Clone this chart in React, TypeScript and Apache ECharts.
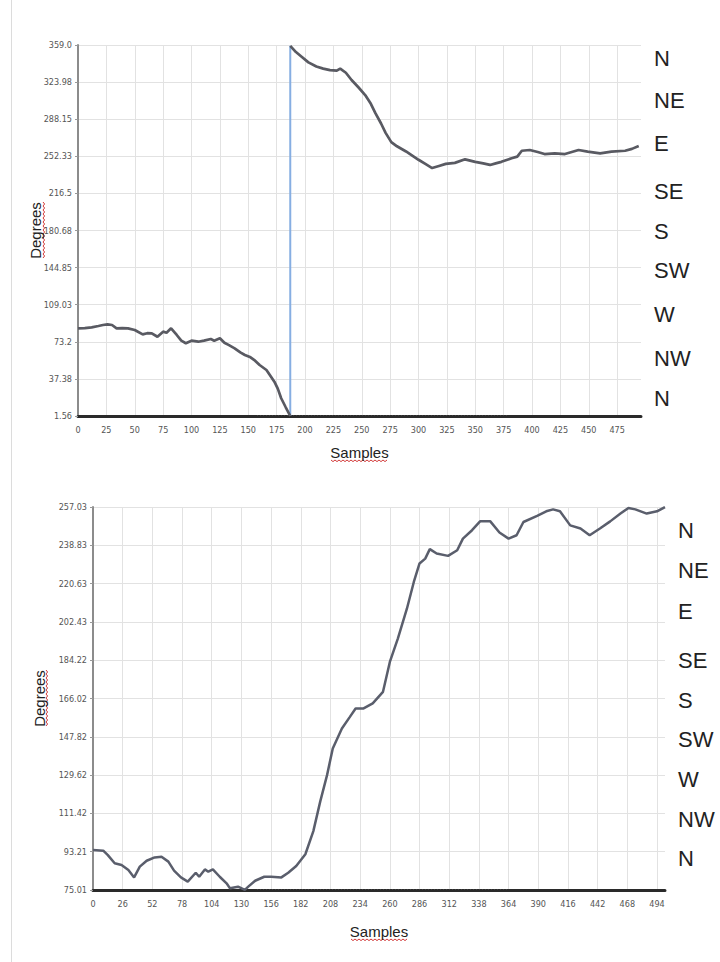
import React, { useEffect, useRef } from "react";
import * as echarts from "echarts";

// ---------- Top chart data ----------
const topSamplesBefore = [0, 6, 12, 18, 22, 26, 30, 34, 39, 44, 50, 57, 61, 65, 70, 75, 78, 82, 87, 91, 95, 100, 106, 111, 117, 120, 125, 129, 133, 138, 143, 147, 152, 156, 160, 166, 169, 173, 176, 179, 183, 187];
const topDegreesBefore = [86.2, 86.5, 87.2, 88.5, 89.4, 90, 89.4, 86.2, 86.5, 86.2, 84.6, 80.4, 81.5, 81.4, 78.1, 83, 82, 86.2, 79.8, 74.3, 71.8, 74.3, 73.3, 74.3, 75.9, 74.3, 76.6, 72.3, 70, 66.9, 63, 60.5, 58.2, 55, 50.8, 46, 41.2, 34.7, 28, 18.7, 10, 1.56];
const topSamplesAfter = [187, 192, 197, 203, 210, 216, 222, 228, 231, 236, 241, 247, 253, 258, 262, 267, 271, 276, 281, 289, 300, 306, 312, 318, 324, 332, 341, 350, 357, 363, 368, 373, 382, 387, 391, 398, 405, 411, 420, 429, 435, 441, 449, 460, 470, 482, 488, 494];
const topDegreesAfter = [359, 353, 348.5, 343, 339, 337, 335.5, 335, 337, 333, 326, 319, 311.5, 303, 294, 284, 275, 266, 262, 257, 249, 245, 241, 243, 245, 246, 249.4, 247, 245.5, 244, 245.5, 247, 250.4, 252, 257.7, 258.4, 256.5, 254.5, 255.2, 254.5, 256.5, 258.4, 256.8, 255.2, 256.8, 257.7, 259.5, 262.3];
const topWrapSample = [187, 187];
const topWrapDegrees = [1.56, 359];
const topXTicks = [0, 25, 50, 75, 100, 125, 150, 175, 200, 225, 250, 275, 300, 325, 350, 375, 400, 425, 450, 475];
const topYLabels = ["1.56", "37.38", "73.2", "109.03", "144.85", "180.68", "216.5", "252.33", "288.15", "323.98", "359.0"];
const topYMin = 1.56;
const topYStep = 35.825;
const topXMax = 496;

// ---------- Bottom chart data ----------
const bottomSamples = [0, 9, 13, 19, 25, 31, 36, 41, 47, 54, 60, 66, 71, 77, 83, 90, 93, 98, 101, 105, 111, 117, 120, 127, 133, 136, 142, 150, 156, 165, 171, 178, 186, 193, 199, 205, 210, 218, 225, 230, 237, 245, 254, 260, 267, 275, 281, 286, 291, 295, 301, 311, 319, 324, 332, 339, 348, 356, 364, 371, 377, 389, 397, 403, 409, 418, 427, 435, 444, 453, 462, 469, 475, 485, 494, 501];
const bottomDegrees = [94, 93.7, 91.6, 87.7, 86.9, 84.5, 81, 86.1, 88.9, 90.5, 90.8, 88.5, 84.2, 81, 79, 83.2, 81.3, 84.8, 83.7, 84.8, 81.3, 78.2, 75.8, 76.6, 75.1, 76.6, 79.4, 81.3, 81.3, 81, 83.2, 86.4, 92, 103, 117, 129.6, 142.3, 151.8, 157.3, 161.3, 161.3, 163.7, 169.2, 183.4, 194.5, 208.8, 221.4, 230.2, 232.5, 237, 234.9, 233.8, 236.5, 242, 246, 250.2, 250.2, 244.9, 242, 243.6, 249.9, 252.8, 255, 255.9, 255, 248.3, 246.8, 243.6, 246.8, 250.2, 253.9, 256.6, 255.9, 253.9, 255, 257];
const bottomXTicks = [0, 26, 52, 78, 104, 130, 156, 182, 208, 234, 260, 286, 312, 338, 364, 390, 416, 442, 468, 494];
const bottomYLabels = ["75.01", "93.21", "111.42", "129.62", "147.82", "166.02", "184.22", "202.43", "220.63", "238.83", "257.03"];
const bottomYMin = 75.01;
const bottomYStep = 18.202;
const bottomXMax = 501;

const compassLabels = ["N", "NE", "E", "SE", "S", "SW", "W", "NW", "N"];

// layout constants for the right-hand compass text
const topCompassY = [58, 100, 143, 191, 231, 270, 314, 358, 398];
const bottomCompassY = [530, 570, 611, 660, 700, 739, 779, 819, 858];

const pairs = (xs: number[], ys: number[]) => xs.map((x, i) => [x, ys[i]]);

const tickValues = (min: number, step: number, n: number) => {
  const out: number[] = [];
  for (let i = 0; i < n; i++) out.push(+(min + i * step).toFixed(4));
  return out;
};

const zigzag = (x0: number, y0: number, len: number, vertical: boolean) => {
  const pts: number[][] = [];
  const step = 2;
  for (let i = 0; i * step <= len; i++) {
    const off = i % 2 === 0 ? 0 : 1.6;
    if (vertical) pts.push([x0 + off, y0 + i * step]);
    else pts.push([x0 + i * step, y0 + off]);
  }
  return pts;
};

const LABEL_FONT = "'Liberation Sans Narrow', 'DejaVu Sans Condensed', 'Liberation Sans', sans-serif";
const MAIN_FONT = "'Liberation Sans', Arial, sans-serif";

export default function App() {
  const ref = useRef<HTMLDivElement>(null);

  useEffect(() => {
    if (!ref.current) return;
    const chart = echarts.init(ref.current, undefined, { renderer: "svg" });

    const topYTicks = tickValues(topYMin, topYStep, topYLabels.length);
    const bottomYTicks = tickValues(bottomYMin, bottomYStep, bottomYLabels.length);

    const xAxisCommon = (ticks: number[], max: number, gridIndex: number, gap: number) => ({
      gridIndex,
      type: "value",
      min: 0,
      max,
      name: "Samples",
      nameLocation: "middle",
      nameGap: gap,
      nameMoveOverlap: false,
      nameTextStyle: { fontSize: 15, color: "#222", fontFamily: MAIN_FONT },
      axisLine: { show: true, lineStyle: { color: "#2a2a2a", width: 3, type: [2, 1] } },
      axisTick: { show: false, customValues: ticks },
      axisLabel: { customValues: ticks, fontSize: 9, color: "#555", margin: 9, fontFamily: LABEL_FONT },
      splitLine: { show: true, lineStyle: { color: "#e2e2e2", width: 1 } },
    });

    const yAxisCommon = (ticks: number[], labels: string[], min: number, step: number, gridIndex: number, gap: number) => ({
      gridIndex,
      type: "value",
      min,
      max: +(min + step * (labels.length - 1)).toFixed(4),
      name: "Degrees",
      nameLocation: "middle",
      nameGap: gap,
      nameMoveOverlap: false,
      nameTextStyle: { fontSize: 15, color: "#222", fontFamily: MAIN_FONT },
      axisLine: { show: true, lineStyle: { color: "#8c8c8c", width: 2 } },
      axisTick: { show: true, length: 3, customValues: ticks, lineStyle: { color: "#999" } },
      axisLabel: {
        customValues: ticks,
        fontSize: 9,
        color: "#555",
        margin: 6,
        fontFamily: LABEL_FONT,
        formatter: (v: number) => labels[Math.round((v - min) / step)] ?? "",
      },
      splitLine: { show: true, lineStyle: { color: "#e2e2e2", width: 1 } },
    });

    const compassText = (ys: number[], x: number) =>
      compassLabels.map((t, i) => ({
        type: "text",
        x,
        y: ys[i],
        style: { text: t, fill: "#222", fontSize: 22, fontFamily: MAIN_FONT, verticalAlign: "middle", align: "left" },
      }));

    const red = { stroke: "#d23a3a", lineWidth: 1, fill: "none" };

    const option: any = {
      animation: false,
      backgroundColor: "#ffffff",
      grid: [
        { left: 78, right: 79, top: 45, bottom: 546 },
        { left: 93, right: 55, top: 507, bottom: 72 },
      ],
      xAxis: [
        xAxisCommon(topXTicks, topXMax, 0, 29),
        xAxisCommon(bottomXTicks, bottomXMax, 1, 34),
      ],
      yAxis: [
        yAxisCommon(topYTicks, topYLabels, topYMin, topYStep, 0, 35),
        yAxisCommon(bottomYTicks, bottomYLabels, bottomYMin, bottomYStep, 1, 46),
      ],
      series: [
        {
          type: "line",
          xAxisIndex: 0,
          yAxisIndex: 0,
          data: pairs(topWrapSample, topWrapDegrees),
          showSymbol: false,
          lineStyle: { color: "#86aee2", width: 2 },
          z: 2,
        },
        {
          type: "line",
          xAxisIndex: 0,
          yAxisIndex: 0,
          data: pairs(topSamplesBefore, topDegreesBefore),
          showSymbol: false,
          lineStyle: { color: "#595a62", width: 2.7 },
          z: 3,
        },
        {
          type: "line",
          xAxisIndex: 0,
          yAxisIndex: 0,
          data: pairs(topSamplesAfter, topDegreesAfter),
          showSymbol: false,
          lineStyle: { color: "#595a62", width: 2.7 },
          z: 3,
        },
        {
          type: "line",
          xAxisIndex: 1,
          yAxisIndex: 1,
          data: pairs(bottomSamples, bottomDegrees),
          showSymbol: false,
          lineStyle: { color: "#5a5e6c", width: 2.5 },
          z: 3,
        },
      ],
      graphic: [
        { type: "line", shape: { x1: 11.5, y1: 0, x2: 11.5, y2: 962 }, style: { stroke: "#dcdcdc", lineWidth: 1 } },
        ...compassText(topCompassY, 654),
        ...compassText(bottomCompassY, 678),
        { type: "polyline", shape: { points: zigzag(331, 460, 56, false) }, style: red },
        { type: "polyline", shape: { points: zigzag(351, 939, 56, false) }, style: red },
        { type: "polyline", shape: { points: zigzag(43, 202, 56, true) }, style: red },
        { type: "polyline", shape: { points: zigzag(46, 670, 56, true) }, style: red },
      ],
    };

    chart.setOption(option);
    return () => chart.dispose();
  }, []);

  return (
    <div
      ref={ref}
      style={{ position: "absolute", left: 0, top: 0, width: 720, height: 962, background: "#fff" }}
    />
  );
}
